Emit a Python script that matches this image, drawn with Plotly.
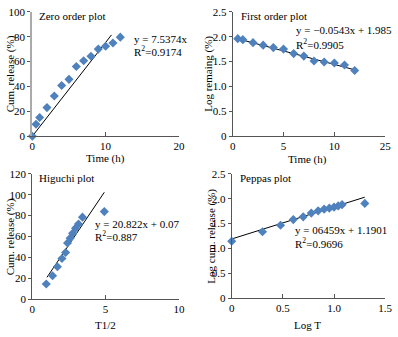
import plotly.graph_objects as go

W, H = 398, 337

# ---- data ----
zero_t = [0, 0.5, 1, 2, 3, 4, 5, 6, 7, 8, 9, 10, 11, 12]
zero_rel = [0, 9.6, 15.0, 23.0, 32.3, 40.8, 45.7, 56.0, 60.7, 64.3, 70.0, 72.3, 74.9, 79.6]
zero_fit_x = [0, 10.8]
zero_slope = 7.5374

first_t = [0.5, 1, 2, 3, 4, 5, 6, 7, 8, 9, 10, 11, 12]
first_log = [1.96, 1.94, 1.88, 1.83, 1.78, 1.75, 1.66, 1.61, 1.51, 1.49, 1.47, 1.43, 1.32]
first_fit_x = [0.5, 12]
first_slope, first_icpt = -0.0543, 1.985

hig_x = [0.95, 1.38, 1.71, 2.02, 2.27, 2.40, 2.58, 2.75, 2.95, 3.15, 3.42, 4.91]
hig_rel = [14.5, 22.4, 31.1, 39.0, 44.6, 53.8, 58.4, 63.0, 68.0, 72.0, 78.5, 83.8]
hig_fit_x = [1.0, 4.91]
hig_slope, hig_icpt = 20.822, 0.07

pep_x = [0, 0.301, 0.477, 0.602, 0.699, 0.778, 0.845, 0.903, 0.954, 1.0, 1.041, 1.079, 1.301]
pep_log = [1.145, 1.335, 1.465, 1.58, 1.635, 1.71, 1.755, 1.79, 1.81, 1.83, 1.855, 1.88, 1.905]
pep_fit_x = [0, 1.3]
pep_slope, pep_icpt = 0.6459, 1.1901

MARK = "#4f81bd"
FONT = "Liberation Serif, Times New Roman, Times, serif"

def px(x):
    return x / W

def py(y):
    return 1 - y / H

fig = go.Figure()

panels = [
    dict(xs=zero_t, ys=zero_rel, fx=zero_fit_x, m=zero_slope, b=0.0, ax="x", ay="y"),
    dict(xs=first_t, ys=first_log, fx=first_fit_x, m=first_slope, b=first_icpt, ax="x2", ay="y2"),
    dict(xs=hig_x, ys=hig_rel, fx=hig_fit_x, m=hig_slope, b=hig_icpt, ax="x3", ay="y3"),
    dict(xs=pep_x, ys=pep_log, fx=pep_fit_x, m=pep_slope, b=pep_icpt, ax="x4", ay="y4"),
]
for p in panels:
    fy = [p["m"] * v + p["b"] for v in p["fx"]]
    fig.add_trace(go.Scatter(x=p["fx"], y=fy, mode="lines", line=dict(color="black", width=1),
                             xaxis=p["ax"], yaxis=p["ay"], showlegend=False, hoverinfo="skip"))
    fig.add_trace(go.Scatter(x=p["xs"], y=p["ys"], mode="markers",
                             marker=dict(symbol="diamond", size=7, color=MARK),
                             xaxis=p["ax"], yaxis=p["ay"], showlegend=False, cliponaxis=False))

tickfont = dict(family=FONT, size=11, color="black")

def xax(dom, rng, vals, text, anchor):
    return dict(domain=dom, range=rng, tickvals=vals, ticktext=text, showgrid=False, zeroline=False,
                showline=True, linecolor="#555", linewidth=1, ticks="inside", ticklen=4,
                tickcolor="#555", tickfont=tickfont, anchor=anchor, fixedrange=True)

def yax(dom, rng, vals, text, anchor, lc="#555", lw=1):
    return dict(domain=dom, range=rng, tickvals=vals, ticktext=text, showgrid=False, zeroline=False,
                showline=True, linecolor=lc, linewidth=lw, ticks="outside", ticklen=3,
                tickcolor="#555", tickfont=tickfont, anchor=anchor, fixedrange=True)

top_y = [py(135), py(6)]
p4_y = [py(303), py(174)]
p3_y = [py(304), py(174)]

fig.update_layout(
    width=W, height=H, margin=dict(l=0, r=0, t=0, b=0),
    paper_bgcolor="white", plot_bgcolor="white",
    font=dict(family=FONT, size=11, color="black"),
    xaxis=xax([px(30), px(180)], [0, 20], [0, 10, 20], ["0", "10", "20"], "y"),
    yaxis=yax(top_y, [0, 100], [0, 20, 40, 60, 80, 100], ["0", "20", "40", "60", "80", "100"], "x",
              lc="#aaa", lw=2),
    xaxis2=xax([px(235), px(391)], [0, 15], [0, 5, 10, 15], ["0", "5", "10", "25"], "y2"),
    yaxis2=yax(top_y, [0, 2.5], [0, 0.5, 1.0, 1.5, 2.0, 2.5], ["0", "0.5", "1.0", "1.5", "2.0", "2.5"], "x2"),
    xaxis3=xax([px(30), px(180)], [0, 10], [0, 5, 10], ["0", "5", "10"], "y3"),
    yaxis3=yax(p3_y, [0, 120], [0, 20, 40, 60, 80, 100, 120],
               ["0", "20", "40", "60", "80", "100", "120"], "x3"),
    xaxis4=xax([px(234), px(391)], [0, 1.5], [0, 0.5, 1.0, 1.5], ["0", "0.5", "1.0", "1.5"], "y4"),
    yaxis4=yax(p4_y, [0, 2.5], [0, 0.5, 1.0, 1.5, 2.0, 2.5], ["0", "0.5", "1.0", "1.5", "2.0", "2.5"], "x4"),
)

def note(text, x, y, xanchor="left", yanchor="middle", angle=0, size=11):
    fig.add_annotation(text=text, x=px(x), y=py(y), xref="paper", yref="paper",
                       xanchor=xanchor, yanchor=yanchor, showarrow=False, textangle=angle,
                       font=dict(family=FONT, size=size, color="black"))

# panel titles
note("Zero order plot", 35, 10)
note("First order plot", 241, 10)
note("Higuchi plot", 35, 178)
note("Peppas plot", 240, 178)

# equations
note("y = 7.5374x", 132, 34)
note("R<sup>2</sup>=0.9174", 132, 47)
note("y = \u22120.0543x + 1.985", 298, 25)
note("R<sup>2</sup>=0.9905", 298, 39)
note("y = 20.822x + 0.07", 92, 226)
note("R<sup>2</sup>=0.887", 92, 239)
note("y = 06459x + 1.1901", 297, 232)
note("R<sup>2</sup>=0.9696", 297, 246)

# axis titles
note("Time (h)", 105, 158, xanchor="center")
note("Time (h)", 312, 159, xanchor="center")
note("T1/2", 105, 331, xanchor="center")
note("Log T", 312, 331, xanchor="center")
note("Cum. release (%)", 8, 70, xanchor="center", angle=-90)
note("Log remaing (%)", 210, 70, xanchor="center", angle=-90)
note("Cum. release (%)", 8, 239, xanchor="center", angle=-90)
note("Log cum. release (%)", 213, 239, xanchor="center", angle=-90)

fig.write_html("out.html")
